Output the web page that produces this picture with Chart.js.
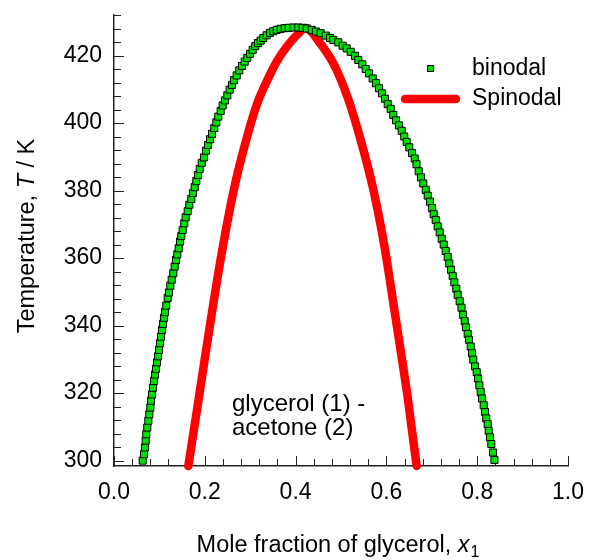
<!DOCTYPE html>
<html>
<head>
<meta charset="utf-8">
<script src="https://cdn.jsdelivr.net/npm/chart.js@4.4.0/dist/chart.umd.min.js"></script>
<style>
  html, body { margin: 0; padding: 0; background: #fff; }
  canvas { display: block; }
</style>
</head>
<body>
<canvas id="phase_chart" width="589" height="560"></canvas>
<script>
// Binodal points (left branch bottom -> top, right branch top -> bottom)
const binodalX = [
  0.0632, 0.0661, 0.0683, 0.0698, 0.0711, 0.0733, 0.0756, 0.0778, 0.0800, 0.0815,
  0.0837, 0.0859, 0.0881, 0.0903, 0.0925, 0.0947, 0.0969, 0.0991, 0.1013, 0.1035,
  0.1057, 0.1079, 0.1101, 0.1123, 0.1150, 0.1183, 0.1211, 0.1240, 0.1271, 0.1306,
  0.1337, 0.1366, 0.1394, 0.1425, 0.1454, 0.1482, 0.1513, 0.1548, 0.1579, 0.1623,
  0.1659, 0.1703, 0.1740, 0.1778, 0.1813, 0.1850, 0.1888, 0.1932, 0.1982, 0.2026,
  0.2070, 0.2115, 0.2159, 0.2209, 0.2253, 0.2297, 0.2350, 0.2394, 0.2445, 0.2496,
  0.2548, 0.2599, 0.2643, 0.2703, 0.2760, 0.2819, 0.2879, 0.2936, 0.2996, 0.3055,
  0.3112, 0.3172, 0.3231, 0.3289, 0.3363, 0.3436, 0.3509, 0.3584, 0.3672, 0.3760,
  0.3848, 0.3949, 0.4059, 0.4156,
  0.4244, 0.4355, 0.4449, 0.4553, 0.4663, 0.4758, 0.4830, 0.4941, 0.5037, 0.5126,
  0.5214, 0.5308, 0.5381, 0.5469, 0.5544, 0.5617, 0.5698, 0.5771, 0.5837, 0.5903,
  0.5969, 0.6029, 0.6095, 0.6152, 0.6211, 0.6278, 0.6337, 0.6394, 0.6447, 0.6504,
  0.6564, 0.6623, 0.6663, 0.6711, 0.6762, 0.6813, 0.6866, 0.6910, 0.6960, 0.7004,
  0.7042, 0.7086, 0.7130, 0.7174, 0.7218, 0.7262, 0.7306, 0.7350, 0.7385, 0.7423,
  0.7460, 0.7496, 0.7540, 0.7570, 0.7614, 0.7654, 0.7687, 0.7725, 0.7753, 0.7791,
  0.7819, 0.7857, 0.7885, 0.7914, 0.7952, 0.7989, 0.8018, 0.8047, 0.8077, 0.8106,
  0.8143, 0.8172, 0.8200, 0.8231, 0.8253, 0.8282, 0.8311, 0.8348, 0.8380
];
const binodalT = [
  300.0, 301.9, 303.9, 305.9, 307.8, 309.8, 311.8, 313.7, 315.7, 317.7,
  319.6, 321.6, 323.6, 325.5, 327.2, 329.1, 330.9, 332.8, 334.8, 336.7,
  338.7, 340.5, 342.3, 344.0, 345.9, 348.2, 349.8, 351.8, 353.6, 355.5,
  357.5, 359.4, 361.1, 362.9, 364.9, 366.5, 368.3, 370.3, 372.1, 373.9,
  375.8, 377.5, 379.3, 381.0, 382.8, 384.6, 386.4, 388.2, 389.8, 391.8,
  393.5, 395.2, 396.8, 398.5, 400.2, 401.9, 403.6, 405.2, 406.7, 408.2,
  409.9, 411.3, 412.7, 414.1, 415.6, 416.9, 418.2, 419.3, 420.5, 421.7,
  422.8, 423.7, 424.4, 425.2, 426.0, 426.7, 427.2, 427.6, 427.9, 428.1,
  428.2, 428.3, 428.3, 428.2,
  428.0, 427.6, 427.1, 426.6, 425.9, 425.2, 424.6, 423.9, 422.9, 422.1,
  421.1, 419.9, 418.7, 417.4, 416.0, 414.7, 413.2, 411.8, 410.3, 408.8,
  407.2, 405.6, 404.2, 402.4, 400.8, 399.3, 397.7, 396.0, 394.4, 392.8,
  391.1, 389.5, 387.8, 385.7, 383.9, 382.1, 380.2, 378.5, 376.7, 374.8,
  373.0, 371.3, 369.4, 367.6, 365.7, 364.0, 362.1, 360.3, 358.4, 356.5,
  354.7, 352.8, 350.9, 349.1, 347.2, 345.3, 343.2, 341.3, 339.5, 337.5,
  335.8, 333.8, 331.8, 329.9, 327.9, 326.2, 324.3, 322.3, 320.3, 318.4,
  316.4, 314.4, 312.5, 310.8, 308.8, 306.9, 304.9, 302.4, 300.2
];

// Spinodal curve
const spinodalX = [
  0.1637, 0.1894, 0.2152, 0.2407, 0.2665, 0.2923, 0.3143, 0.3363, 0.3584,
  0.3804, 0.4024, 0.4240, 0.4515, 0.4846, 0.5154, 0.5441, 0.5705, 0.5947,
  0.6189, 0.6447, 0.6557, 0.6667
];
const spinodalT = [
  298.4, 320.8, 343.4, 364.1, 381.8, 395.5, 405.4, 412.3, 418.2,
  422.6, 426.0, 428.1, 424.1, 417.3, 407.3, 394.6, 380.7, 364.2,
  343.5, 320.8, 309.6, 298.4
];

// Axis ticks
const xMajorTicks = [0.0, 0.2, 0.4, 0.6, 0.8, 1.0];
const yMajorTicks = [300, 320, 340, 360, 380, 400, 420];
const xMinorStep = 0.04;
const yMinorStep = 4;

const axisColor = '#222';
const fontFamily = 'Arial, "Liberation Sans", sans-serif';
const fontSize = 23;
const titleSize = 23.5;

function isMajor(list, v) {
  return list.some(m => Math.abs(m - v) < 1e-6);
}

function toPoints(xs, ys) {
  return xs.map((x, i) => ({ x: x, y: ys[i] }));
}

// keep the plot frame where the original has it, no label overflow padding
function noOverflow(scale) {
  scale.paddingTop = 0;
  scale.paddingBottom = 0;
  scale.paddingLeft = 0;
  scale.paddingRight = 0;
}

// Inward tick marks, axis titles, legend and the system label
const decorations = {
  id: 'decorations',
  beforeDatasetsDraw(chart) {
    const { ctx, chartArea, scales } = chart;
    ctx.save();
    ctx.strokeStyle = axisColor;
    ctx.lineWidth = 1;
    scales.x.ticks.forEach(t => {
      const px = Math.round(scales.x.getPixelForValue(t.value)) + 0.5;
      const len = isMajor(xMajorTicks, t.value) ? 10 : 7;
      ctx.beginPath();
      ctx.moveTo(px, chartArea.bottom);
      ctx.lineTo(px, chartArea.bottom - len);
      ctx.stroke();
    });
    scales.y.ticks.forEach(t => {
      const py = Math.round(scales.y.getPixelForValue(t.value)) + 0.5;
      const len = isMajor(yMajorTicks, t.value) ? 10 : 7;
      ctx.beginPath();
      ctx.moveTo(chartArea.left, py);
      ctx.lineTo(chartArea.left + len, py);
      ctx.stroke();
    });
    ctx.restore();
  },
  afterDraw(chart) {
    const { ctx } = chart;
    const normal = fontSize + 'px ' + fontFamily;
    const title = titleSize + 'px ' + fontFamily;
    const italic = 'italic ' + titleSize + 'px ' + fontFamily;
    const small = '16px ' + fontFamily;
    ctx.save();
    ctx.fillStyle = '#000';
    ctx.textBaseline = 'alphabetic';

    // x axis title
    const xa = 'Mole fraction of glycerol, ';
    ctx.font = title; const wa = ctx.measureText(xa).width;
    ctx.font = italic; const wx = ctx.measureText('x').width;
    ctx.font = small; const w1 = ctx.measureText('1').width;
    let sx = 338 - (wa + wx + w1 + 1) / 2;
    ctx.textAlign = 'left';
    ctx.font = title; ctx.fillText(xa, sx, 552);
    ctx.font = italic; ctx.fillText('x', sx + wa, 552);
    ctx.font = small; ctx.fillText('1', sx + wa + wx + 1, 557);

    // y axis title (rotated)
    ctx.save();
    ctx.translate(34, 236);
    ctx.rotate(-Math.PI / 2);
    const ya = 'Temperature, ', yb = ' / K';
    ctx.font = title; const wya = ctx.measureText(ya).width, wyb = ctx.measureText(yb).width;
    ctx.font = italic; const wt = ctx.measureText('T').width;
    let sy = -(wya + wt + wyb) / 2;
    ctx.font = title; ctx.fillText(ya, sy, 0);
    ctx.font = italic; ctx.fillText('T', sy + wya, 0);
    ctx.font = title; ctx.fillText(yb, sy + wya + wt, 0);
    ctx.restore();

    // system label
    ctx.font = '24px ' + fontFamily;
    ctx.fillText('glycerol (1) -', 232, 411);
    ctx.fillText('acetone (2)', 232, 435);

    // legend
    const bin = chart.data.datasets[0], spin = chart.data.datasets[1];
    ctx.fillStyle = bin.pointBackgroundColor;
    ctx.strokeStyle = bin.pointBorderColor;
    ctx.lineWidth = 1;
    ctx.fillRect(427.5, 65.5, 6, 6);
    ctx.strokeRect(427.5, 65.5, 6, 6);
    ctx.strokeStyle = spin.borderColor;
    ctx.lineWidth = spin.borderWidth;
    ctx.lineCap = 'round';
    ctx.beginPath();
    ctx.moveTo(405, 99);
    ctx.lineTo(456, 99);
    ctx.stroke();
    ctx.fillStyle = '#000';
    ctx.textBaseline = 'middle';
    ctx.font = normal;
    ctx.fillText('binodal', 472, 69);
    ctx.fillText('Spinodal', 472, 99);
    ctx.restore();
  }
};

const ctx = document.getElementById('phase_chart').getContext('2d');

const config = {
  type: 'scatter',
  data: {
    datasets: [
      {
        label: 'binodal',
        data: toPoints(binodalX, binodalT),
        showLine: false,
        pointStyle: 'rect',
        pointRadius: 5,
        pointBorderWidth: 1,
        pointBackgroundColor: '#00e000',
        pointBorderColor: '#000',
        clip: false,
        order: 1
      },
      {
        label: 'Spinodal',
        data: toPoints(spinodalX, spinodalT),
        showLine: true,
        borderColor: '#ff0000',
        borderWidth: 8.5,
        borderCapStyle: 'round',
        borderJoinStyle: 'round',
        tension: 0.35,
        pointRadius: 0,
        clip: false,
        order: 2
      }
    ]
  },
  options: {
    responsive: false,
    animation: false,
    layout: { padding: { top: 15, right: 21, left: 0, bottom: 0 } },
    plugins: {
      legend: { display: false },
      tooltip: { enabled: false }
    },
    scales: {
      x: {
        type: 'linear',
        min: 0,
        max: 1,
        grid: { display: false, drawTicks: false },
        border: { display: true, color: axisColor, width: 1.5 },
        afterBuildTicks(scale) {
          const ticks = [];
          for (let i = 0; i <= Math.round(1 / xMinorStep); i++) ticks.push({ value: +(i * xMinorStep).toFixed(2) });
          scale.ticks = ticks;
        },
        afterFit(scale) { scale.height = 94; noOverflow(scale); },
        ticks: {
          autoSkip: false,
          maxRotation: 0,
          padding: 13,
          color: '#000',
          font: { family: fontFamily, size: fontSize },
          callback: v => isMajor(xMajorTicks, v) ? v.toFixed(1) : ''
        }
      },
      y: {
        type: 'linear',
        min: 298.4,
        max: 432,
        grid: { display: false, drawTicks: false },
        border: { display: true, color: axisColor, width: 1.5 },
        afterBuildTicks(scale) {
          const ticks = [];
          for (let v = 300; v <= 432; v += yMinorStep) ticks.push({ value: v });
          scale.ticks = ticks;
        },
        afterFit(scale) { scale.width = 114; noOverflow(scale); },
        ticks: {
          autoSkip: false,
          padding: 12,
          color: '#000',
          font: { family: fontFamily, size: fontSize },
          callback: v => isMajor(yMajorTicks, v) ? String(v) : ''
        }
      }
    }
  },
  plugins: [decorations]
};

const phaseChart = new Chart(ctx, config);
</script>
</body>
</html>
